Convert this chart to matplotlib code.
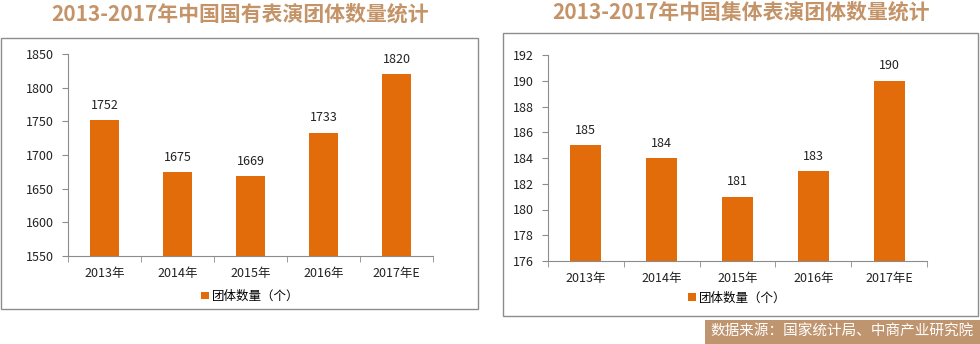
import numpy as np
import matplotlib
matplotlib.use('Agg')
import matplotlib.pyplot as plt
from matplotlib.patches import Rectangle

plt.rcParams['font.family'] = ['Noto Sans CJK SC', 'DejaVu Sans']

# données
annees = ['2013年', '2014年', '2015年', '2016年', '2017年E']
etat = [1752, 1675, 1669, 1733, 1820]
collectif = [185, 184, 181, 183, 190]

titre_g = '2013-2017年中国国有表演团体数量统计'
titre_d = '2013-2017年中国集体表演团体数量统计'
legende = '团体数量（个）'
source = '数据来源：国家统计局、中商产业研究院'

orange = '#E36C0A'
brun = '#C49468'
gris = '#8C8C8C'

W, H = 980, 344
fig = plt.figure(figsize=(W / 100, H / 100), dpi=100)

def fx(px):
    return px / W

def fy(py):
    return 1 - py / H

# cadres
for x0, y0, x1, y1 in [(1, 38, 478, 309), (503, 33, 978, 316)]:
    fig.patches.append(Rectangle((fx(x0), fy(y1)), fx(x1 - x0), (y1 - y0) / H,
                                 transform=fig.transFigure, fill=False,
                                 edgecolor=gris, lw=1))

fig.text(fx(240), fy(14), titre_g, ha='center', va='center', fontsize=15,
         fontweight='bold', color=brun)
fig.text(fx(741), fy(12), titre_d, ha='center', va='center', fontsize=15,
         fontweight='bold', color=brun)

def panneau(rect, valeurs, ylim, pas, leg_y):
    ax = fig.add_axes(rect)
    x = np.arange(len(annees))
    ax.bar(x, valeurs, width=0.41, color=orange, zorder=2)
    ax.set_xlim(-0.5, len(annees) - 0.5)
    ax.set_ylim(*ylim)
    ax.set_yticks(np.arange(ylim[0], ylim[1] + pas / 2, pas))
    ax.set_xticks(x)
    ax.set_xticklabels(annees)
    ax.set_xticks(np.arange(-0.5, len(annees)), minor=True)
    ax.tick_params(axis='x', which='major', length=0, pad=8, labelsize=9,
                   labelcolor='#222222')
    ax.tick_params(axis='x', which='minor', length=4, color=gris, direction='out')
    ax.tick_params(axis='y', length=4, color=gris, labelsize=9,
                   labelcolor='#222222', pad=6)
    for s in ['top', 'right']:
        ax.spines[s].set_visible(False)
    for s in ['left', 'bottom']:
        ax.spines[s].set_color(gris)
    for xi, v in zip(x, valeurs):
        ax.annotate(str(v), (xi, v), xytext=(0, 6), textcoords='offset points',
                    ha='center', va='bottom', fontsize=9, color='#222222')
    h = ax.bar([0], [0], color=orange, label=legende)
    ax.legend(handles=[h], loc='center', bbox_to_anchor=(0.5, leg_y),
              frameon=False, fontsize=9, handlelength=0.6, handleheight=0.6,
              handletextpad=0.3)
    return ax

panneau([fx(68), fy(256), fx(433 - 68), (256 - 54) / H], etat,
        (1550, 1850), 50, -0.2)
panneau([fx(548), fy(261), fx(927 - 548), (261 - 55) / H], collectif,
        (176, 192), 2, -0.18)

# bandeau de la source
fig.patches.append(Rectangle((fx(705), 0), fx(980 - 705), (344 - 320) / H,
                             transform=fig.transFigure, facecolor='#BF9570',
                             edgecolor='none'))
fig.text(fx(842), fy(332), source, ha='center', va='center', fontsize=10.5,
         color='white')

fig.savefig('out.png', dpi=100)
